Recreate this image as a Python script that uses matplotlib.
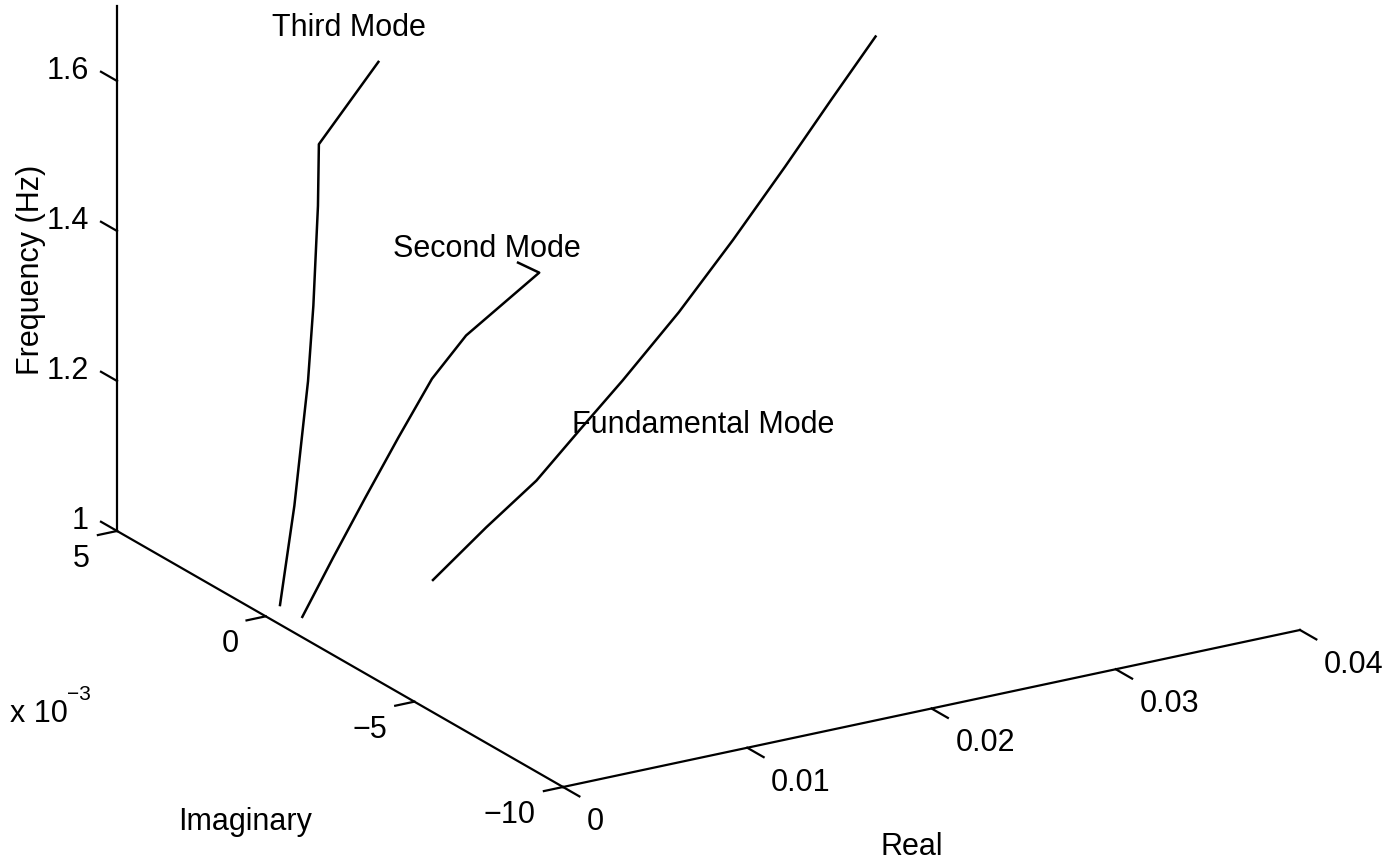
import matplotlib
matplotlib.use("Agg")
import matplotlib.pyplot as plt

plt.rcParams["font.family"] = ["Liberation Sans", "DejaVu Sans"]

# eigenvector traces: real part, imaginary part (x1e-3), frequency (Hz)
third_real = [0.00125, 0.00204, 0.00278, 0.00307, 0.00332, 0.00337, 0.00664]
third_imag = [0.3, 0.3, 0.3, 0.3, 0.3, 0.3, 0.3]
third_freq = [1.000, 1.130, 1.292, 1.391, 1.523, 1.605, 1.699]

second_real = [0.00131, 0.00300, 0.00475, 0.00655, 0.00838, 0.01023, 0.01420, 0.01420]
second_imag = [-0.4, -0.4, -0.4, -0.4, -0.4, -0.4, -0.4, 0.35]
second_freq = [1.000, 1.071, 1.142, 1.213, 1.282, 1.330, 1.393, 1.390]

fund_real = [0.00903, 0.01197, 0.01469, 0.01703, 0.01937, 0.02242, 0.02536, 0.02819,
             0.03069, 0.03314]
fund_imag = [0.0, 0.0, 0.0, 0.0, 0.0, 0.0, 0.0, 0.0, 0.0, 0.0]
fund_freq = [1.000, 1.056, 1.104, 1.159, 1.213, 1.288, 1.369, 1.452, 1.528, 1.601]

real_ticks = [0, 0.01, 0.02, 0.03, 0.04]
real_labels = ["0", "0.01", "0.02", "0.03", "0.04"]
imag_ticks = [5, 0, -5, -10]
imag_labels = ["5", "0", "\u22125", "\u221210"]
freq_ticks = [1.0, 1.2, 1.4, 1.6]
freq_labels = ["1", "1.2", "1.4", "1.6"]

XLIM = (0, 0.04)
YLIM = (-10, 5)
ZLIM = (1, 1.7)

W, H = 1400, 865
FS = 22
LW_AX = 1.6
LW_CURVE = 1.8

fig = plt.figure(figsize=(W / 100, H / 100), dpi=100, facecolor="white")
side = 1300.1
ax = fig.add_axes([40.9 / W, -120.6 / H, side / W, side / H], projection="3d")
ax.set_proj_type("ortho")
ax.view_init(elev=20.47, azim=-121.35)
ax.set_box_aspect((1.0, 0.9934, 0.6494))
ax.set_axis_off()

k = dict(color="black", lw=LW_CURVE, solid_capstyle="butt", solid_joinstyle="round")
ax.plot(third_real, third_imag, third_freq, **k)
ax.plot(second_real, second_imag, second_freq, **k)
ax.plot(fund_real, fund_imag, fund_freq, **k)

# axis lines along the three visible edges
a = dict(color="black", lw=LW_AX)
ax.plot([XLIM[0], XLIM[1]], [YLIM[0], YLIM[0]], [ZLIM[0], ZLIM[0]], **a)
ax.plot([XLIM[0], XLIM[0]], [YLIM[0], YLIM[1]], [ZLIM[0], ZLIM[0]], **a)
ax.plot([XLIM[0], XLIM[0]], [YLIM[1], YLIM[1]], [ZLIM[0], ZLIM[1]], **a)

# ticks and tick labels
for r, lab in zip(real_ticks, real_labels):
    ax.plot([r, r], [YLIM[0], YLIM[0] - 0.55], [ZLIM[0], ZLIM[0]], **a)
    ax.text(r, YLIM[0] - 0.805, ZLIM[0] - 0.039, lab, fontsize=FS,
            ha="left", va="baseline")

for im, lab in zip(imag_ticks, imag_labels):
    ax.plot([XLIM[0], XLIM[0] - 0.00104], [im, im], [ZLIM[0], ZLIM[0]], **a)
    ax.text(XLIM[0] - 0.00147, im, ZLIM[0] - 0.0404, lab, fontsize=FS,
            ha="right", va="baseline")

for f, lab in zip(freq_ticks, freq_labels):
    ax.plot([XLIM[0], XLIM[0]], [YLIM[1], YLIM[1] + 0.54], [f, f], **a)
    ax.text(XLIM[0], YLIM[1] + 0.94, f - 0.0193, lab, fontsize=FS,
            ha="right", va="baseline")

ax.set_xlim(*XLIM)
ax.set_ylim(*YLIM)
ax.set_zlim(*ZLIM)

# mode annotations
ax.text(0.00082, 0.3, 1.7625, "Third Mode", fontsize=FS, ha="left", va="baseline")
ax.text(0.00626, -0.4, 1.4556, "Second Mode", fontsize=FS, ha="left", va="baseline")
ax.text(0.01665, 0.0, 1.1567, "Fundamental Mode", fontsize=FS, ha="left", va="baseline")

# axis titles
fig.text(31 / W, 1 - 270 / H, "Frequency (Hz)", fontsize=FS, rotation=90,
         ha="center", va="center")
fig.text(245.5 / W, 1 - 830 / H, "Imaginary", fontsize=FS, ha="center", va="baseline")
fig.text(912 / W, 1 - 855 / H, "Real", fontsize=FS, ha="center", va="baseline")
fig.text(10 / W, 1 - 722 / H, "x 10", fontsize=FS, ha="left", va="baseline")
fig.text(67 / W, 1 - 700 / H, "\u22123", fontsize=15, ha="left", va="baseline")

fig.savefig("out.png", dpi=100, facecolor="white")
